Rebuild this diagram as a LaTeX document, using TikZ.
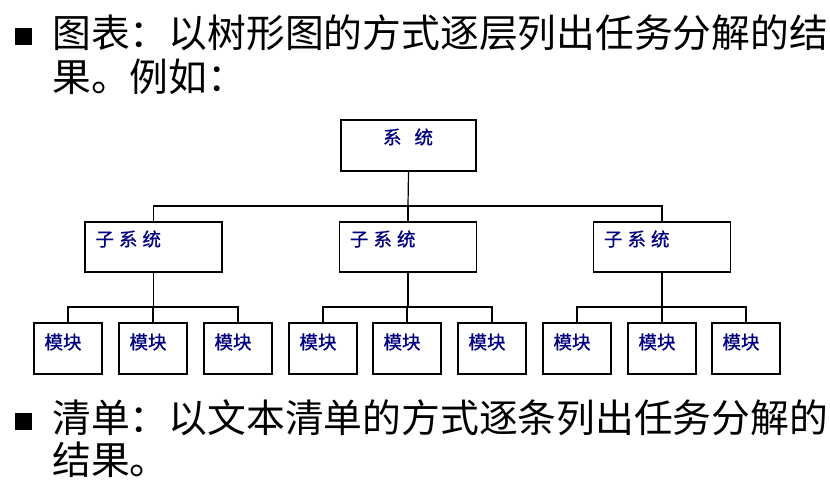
\documentclass[tikz,border=0pt]{standalone}
\usepackage{fontspec}
\setmainfont{Noto Sans CJK SC}
\newfontfamily\cjk{Noto Sans CJK SC}
\newfontfamily\cjklbl[FakeBold=0.8]{Noto Sans CJK SC}
\definecolor{lblblue}{HTML}{000080}
\begin{document}
\begin{tikzpicture}[x=1pt,y=-1pt,
  box/.style={draw=black, line width=1.4pt, fill=white, inner sep=0pt},
  topbox/.style={box, minimum width=135pt, minimum height=51pt},
  subbox/.style={box, minimum width=137pt, minimum height=50pt},
  modbox/.style={box, minimum width=68pt, minimum height=51pt},
  lbl/.style={font=\cjklbl\fontsize{18.5}{18.5}\selectfont, text=lblblue, inner sep=0pt},
  conn/.style={draw=black, line width=1.2pt},
  body/.style={font=\cjk\fontsize{38.8}{40}\selectfont, text=black, anchor=west, inner sep=0pt},
  bullet/.style={fill=black, draw=none, minimum size=16.5pt, inner sep=0pt}
]
\useasboundingbox (0,0) rectangle (830,480);
\fill[white] (0,0) rectangle (830,480);

% header text
\node[bullet] (b1) at (23.5,36.5) {};
\node[body] (t1) at (52,33) {图表：以树形图的方式逐层列出任务分解的结};
\node[body] (t2) at (52,77) {果。例如：};

% tree
\node[topbox] (top) at (408.5,145.5) {};
\node[lbl] (topt) at (408,137) {系\hspace{13pt}统};

\foreach \n/\x in {1/153.5,2/408,3/662}{
  \node[subbox] (s\n) at (\x,247) {};
  \node[lbl, anchor=west] (s\n t) at ([xshift=11pt]s\n.west |- 0,239) {子\hspace{5pt}系\hspace{5pt}统};
}
\coordinate (busT) at (408,206);
\draw[conn] (top.south) -- (busT);
\draw[conn] (s1.north) |- (busT) -| (s3.north);
\draw[conn] (busT) -- (s2.north);

\foreach \m/\x in {1/68,2/153,3/238,4/323,5/407,6/492,7/577,8/662,9/746}{
  \node[modbox] (m\m) at (\x,348.5) {};
  \node[lbl, anchor=west] (m\m t) at ([xshift=11pt]m\m.west |- 0,342) {模块};
}
\foreach \s/\a/\b/\c in {1/1/2/3,2/4/5/6,3/7/8/9}{
  \coordinate (bus\s) at (s\s.south |- 0,307);
  \draw[conn] (s\s.south) -- (bus\s);
  \draw[conn] (m\a.north) |- (bus\s) -| (m\c.north);
  \draw[conn] (bus\s) -| (m\b.north);
}

% footer text
\node[bullet] (b2) at (23.5,421.5) {};
\node[body] (t3) at (52,418) {清单：以文本清单的方式逐条列出任务分解的};
\node[body] (t4) at (52,460) {结果。};
\end{tikzpicture}
\end{document}
